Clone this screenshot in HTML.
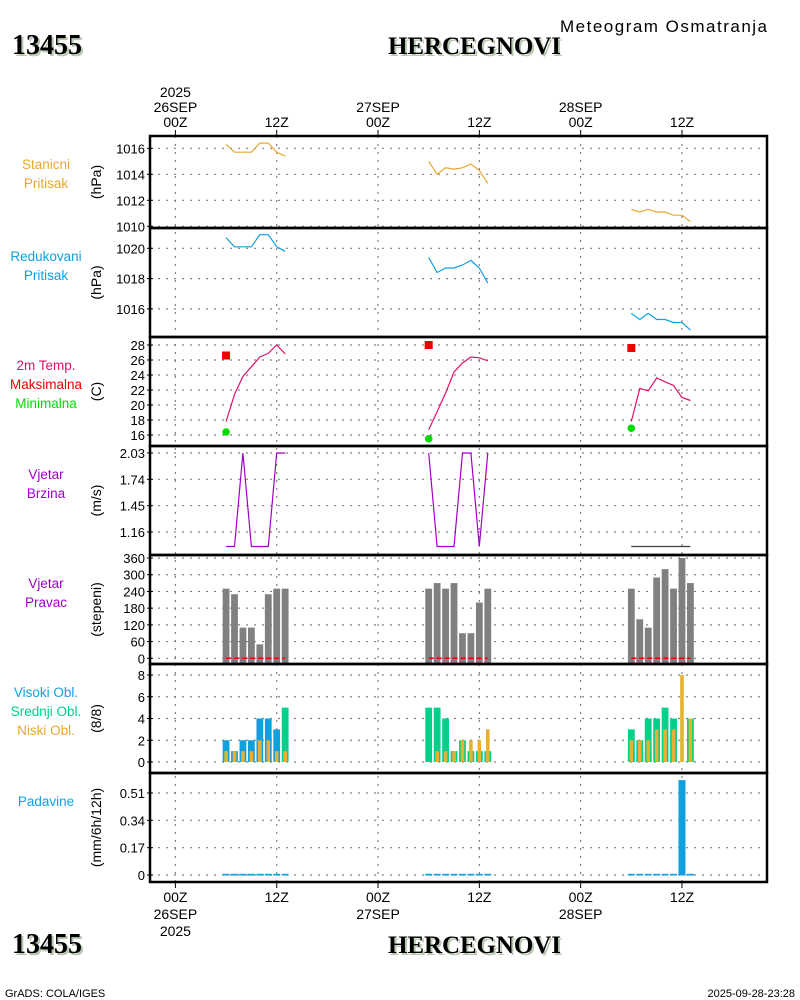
<!DOCTYPE html>
<html><head><meta charset="utf-8"><title>Meteogram HERCEGNOVI</title>
<style>
html,body{margin:0;padding:0;background:#fff;}
svg{display:block;font-family:"Liberation Sans",sans-serif;}
</style></head>
<body>
<svg id="chart" width="800" height="1000" viewBox="0 0 800 1000" xmlns="http://www.w3.org/2000/svg">
  <text x="560" y="32" font-size="17" textLength="207">Meteogram Osmatranja</text>
  <g font-family="Liberation Serif, serif" font-weight="bold" font-size="28">
    <text x="14" y="56" fill="#b8c8b0">13455</text>
    <text x="12" y="54" fill="#000">13455</text>
  </g>
  <g font-family="Liberation Serif, serif" font-weight="bold" font-size="25">
    <text x="390" y="56" fill="#b8c8b0" textLength="173">HERCEGNOVI</text>
    <text x="388" y="54" fill="#000" textLength="173">HERCEGNOVI</text>
  </g>
  <g font-family="Liberation Serif, serif" font-weight="bold" font-size="28">
    <text x="14" y="955" fill="#b8c8b0">13455</text>
    <text x="12" y="953" fill="#000">13455</text>
  </g>
  <g font-family="Liberation Serif, serif" font-weight="bold" font-size="25">
    <text x="390" y="955" fill="#b8c8b0" textLength="173">HERCEGNOVI</text>
    <text x="388" y="953" fill="#000" textLength="173">HERCEGNOVI</text>
  </g>
  <text x="5" y="997" font-size="11">GrADS: COLA/IGES</text>
  <text x="795" y="997" font-size="11" text-anchor="end">2025-09-28-23:28</text>
  <g id="grid"></g>
  <g id="marks"></g>
  <g id="frame"></g>
</svg>
<script>
// ---- data ----
const hoursDay1 = [6,7,8,9,10,11,12,13];
const hoursDay2 = [30,31,32,33,34,35,36,37];
const hoursDay3 = [54,55,56,57,58,59,60,61];
const stnPres1 = [1016.3,1015.7,1015.7,1015.7,1016.4,1016.4,1015.7,1015.4];
const stnPres2 = [1015.0,1014.0,1014.5,1014.4,1014.5,1014.8,1014.3,1013.3];
const stnPres3 = [1011.3,1011.1,1011.3,1011.1,1011.1,1010.85,1010.85,1010.35];
const redPres1 = [1020.7,1020.1,1020.1,1020.1,1020.9,1020.9,1020.1,1019.8];
const redPres2 = [1019.4,1018.4,1018.7,1018.7,1018.9,1019.2,1018.7,1017.7];
const redPres3 = [1015.7,1015.3,1015.7,1015.3,1015.3,1015.1,1015.1,1014.6];
const temp1 = [17.8,21.4,23.8,25.1,26.4,26.9,28.0,26.8];
const temp2 = [16.7,19.1,21.6,24.4,25.6,26.4,26.3,25.9];
const temp3 = [17.8,22.2,21.9,23.6,23.1,22.6,21.0,20.6];
const tmaxHours = [6,30,54];
const tmaxValues = [26.6,28.0,27.6];
const tminHours = [6,30,54];
const tminValues = [16.4,15.5,16.9];
const wspd1 = [1.0,1.0,2.03,1.0,1.0,1.0,2.03,2.03];
const wspd2 = [2.03,1.0,1.0,1.0,2.03,2.03,1.0,2.03];
const wspd3 = [1.0,1.0,1.0,1.0,1.0,1.0,1.0,1.0];
const wdir1 = [250,230,110,110,50,230,250,250];
const wdir2 = [250,270,250,270,90,90,200,250];
const wdir3 = [250,140,110,290,320,250,360,270];
const cloudHigh1 = [2,1,2,2,4,4,3,0];
const cloudMid1 = [0,0,0,0,0,0,0,5];
const cloudLow1 = [1,1,1,1,2,2,1,1];
const cloudHigh2 = [0,0,0,0,0,0,0,0];
const cloudMid2 = [5,5,4,1,2,1,1,1];
const cloudLow2 = [0,1,1,1,2,2,2,3];
const cloudHigh3 = [1,1,1,0,0,0,0,0];
const cloudMid3 = [3,2,4,4,5,4,0,4];
const cloudLow3 = [2,2,2,3,3,3,8,4];
const precip1 = [0,0,0,0,0,0,0,0];
const precip2 = [0,0,0,0,0,0,0,0];
const precip3 = [0,0,0,0,0,0,0.59,0];
const timeTickHours = [0,12,24,36,48,60];
const topTickLabels = [["2025","26SEP","00Z"],["12Z"],["27SEP","00Z"],["12Z"],["28SEP","00Z"],["12Z"]];
const bottomTickLabels = [["00Z","26SEP","2025"],["12Z"],["00Z","27SEP"],["12Z"],["00Z","28SEP"],["12Z"]];
const ticksStn = [1010,1012,1014,1016];
const ticksRed = [1016,1018,1020];
const ticksTemp = [16,18,20,22,24,26,28];
const ticksWspd = [1.16,1.45,1.74,2.03];
const ticksWdir = [0,60,120,180,240,300,360];
const ticksCloud = [0,2,4,6,8];
const ticksPrecip = [0,0.17,0.34,0.51];

// ---- layout ----
const NS = "http://www.w3.org/2000/svg";
const L = 150, R = 767;
const x = h => 175.4 + h * 8.443;
function lin(v0, y0, v1, y1){ return v => y0 + (v - v0) * (y1 - y0) / (v1 - v0); }
const panels = [
  {top:136,bot:228,y:lin(1016,148.3,1010,226.3),ticks:ticksStn,fmt:v=>v,unit:"(hPa)",labels:[["Stanicni","#e8a830"],["Pritisak","#e8a830"]],name:"station-pressure"},
  {top:228,bot:337,y:lin(1020,248.3,1018,278.6),ticks:ticksRed,fmt:v=>v,unit:"(hPa)",labels:[["Redukovani","#10a0e0"],["Pritisak","#10a0e0"]],name:"reduced-pressure"},
  {top:337,bot:446,y:lin(28,345,16,435),ticks:ticksTemp,fmt:v=>v,unit:"(C)",labels:[["2m Temp.","#e0106a"],["Maksimalna","#f00000"],["Minimalna","#00dc00"]],name:"temperature"},
  {top:446,bot:555,y:lin(2.03,453,1.16,532),ticks:ticksWspd,fmt:v=>v.toFixed(2),unit:"(m/s)",labels:[["Vjetar","#a000c8"],["Brzina","#a000c8"]],name:"wind-speed"},
  {top:555,bot:664,y:lin(0,658.3,360,558),ticks:ticksWdir,fmt:v=>v,unit:"(stepeni)",labels:[["Vjetar","#a000c8"],["Pravac","#a000c8"]],name:"wind-direction"},
  {top:664,bot:773,y:lin(0,762,8,675),ticks:ticksCloud,fmt:v=>v,unit:"(8/8)",labels:[["Visoki Obl.","#10a0e0"],["Srednji Obl.","#00d08a"],["Niski Obl.","#e8a830"]],name:"cloud-cover"},
  {top:773,bot:882,y:lin(0,875,0.51,793),ticks:ticksPrecip,fmt:v=>v===0?"0":String(v),unit:"(mm/6h/12h)",labels:[["Padavine","#10a0e0"]],name:"precipitation"}
];
function el(tag, attrs, parent){
  const e = document.createElementNS(NS, tag);
  for (const k in attrs) e.setAttribute(k, attrs[k]);
  parent.appendChild(e);
  return e;
}
const grid = document.getElementById('grid');
const marks = document.getElementById('marks');
const frame = document.getElementById('frame');

timeTickHours.forEach((h,i)=>{
  const gl = el('line',{x1:x(h),x2:x(h),y1:136,y2:882,stroke:'#808080','stroke-width':1.2,'stroke-dasharray':'2,6'},grid);
  
  
  const t1 = el('line',{x1:x(h),x2:x(h),y1:130,y2:136,stroke:'#000','stroke-width':1},frame);
  
  
  const t2 = el('line',{x1:x(h),x2:x(h),y1:882,y2:888,stroke:'#000','stroke-width':1},frame);
  
  
  const tl = topTickLabels[i];
  tl.forEach((s,j)=>{
    const t = el('text',{x:x(h),y:127-(tl.length-1-j)*15,'font-size':14,'text-anchor':'middle'},frame);
    t.textContent = s;
    
    
  });
  bottomTickLabels[i].forEach((s,j)=>{
    const t = el('text',{x:x(h),y:902+j*17,'font-size':14,'text-anchor':'middle'},frame);
    t.textContent = s;
    
    
  });
});

panels.forEach(p=>{
  p.ticks.forEach(v=>{
    const yy = p.y(v);
    const g = el('line',{x1:L,x2:R,y1:yy,y2:yy,stroke:'#808080','stroke-width':1.2,'stroke-dasharray':'2,6'},grid);
    
    
    const tk = el('line',{x1:L-3,x2:L+3,y1:yy,y2:yy,stroke:'#000','stroke-width':1},frame);
    
    
    const t = el('text',{x:L-5,y:yy+5,'font-size':13,'text-anchor':'end'},frame);
    t.textContent = p.fmt(v);
    
    
  });
  const mid = (p.top+p.bot)/2;
  const u = el('text',{x:0,y:0,'font-size':14,'text-anchor':'middle',transform:`translate(101,${mid}) rotate(-90)`},frame);
  u.textContent = p.unit;
  
  
  p.labels.forEach((lb,j)=>{
    const t = el('text',{x:46,y:p.top+33+j*19,'font-size':13.5,'text-anchor':'middle',fill:lb[1]},frame);
    t.textContent = lb[0];
    
    
  });
  const b = el('rect',{x:L,y:p.top,width:R-L,height:p.bot-p.top,fill:'none',stroke:'#000','stroke-width':2.5},frame);
  
  
});

function polyline(hours, vals, yfn, color, name, w){
  const pts = hours.map((h,i)=>x(h).toFixed(1)+','+yfn(vals[i]).toFixed(1)).join(' ');
  const pl = el('polyline',{points:pts,fill:'none',stroke:color,'stroke-width':w||1.2},marks);
  
  
}
const days = [hoursDay1,hoursDay2,hoursDay3];
[stnPres1,stnPres2,stnPres3].forEach((d,i)=>polyline(days[i],d,panels[0].y,'#e8a830','station-pressure-line'));
[redPres1,redPres2,redPres3].forEach((d,i)=>polyline(days[i],d,panels[1].y,'#10a0e0','reduced-pressure-line'));
[temp1,temp2,temp3].forEach((d,i)=>polyline(days[i],d,panels[2].y,'#e0106a','temperature-line'));
tmaxHours.forEach((h,i)=>{
  const r = el('rect',{x:x(h)-4,y:panels[2].y(tmaxValues[i])-4,width:8,height:8,fill:'#f00000'},marks);
  
  
});
tminHours.forEach((h,i)=>{
  const c = el('circle',{cx:x(h),cy:panels[2].y(tminValues[i]),r:3.8,fill:'#00dc00'},marks);
  
  
});
[wspd1,wspd2,wspd3].forEach((d,i)=>polyline(days[i],d,panels[3].y,i===2?'#404040':'#a000c8','wind-speed-line'));
[wdir1,wdir2,wdir3].forEach((d,i)=>{
  days[i].forEach((h,j)=>{
    const y0 = panels[4].y(d[j]);
    const r = el('rect',{x:x(h)-3.4,y:y0,width:6.8,height:664-y0,fill:'#808080'},marks);
    
    
  });
  const dl = el('line',{x1:x(days[i][0]),x2:x(days[i][7]),y1:panels[4].y(0),y2:panels[4].y(0),stroke:'#f00000','stroke-width':1.5,'stroke-dasharray':'5,3'},marks);
  
  
});
const cy = panels[5].y;
[[cloudHigh1,cloudMid1,cloudLow1],[cloudHigh2,cloudMid2,cloudLow2],[cloudHigh3,cloudMid3,cloudLow3]].forEach((set,i)=>{
  days[i].forEach((h,j)=>{
    const hi = el('rect',{x:x(h)-3.4,y:cy(set[0][j]),width:6.8,height:cy(0)-cy(set[0][j]),fill:'#10a0e0'},marks);
    
    
    const md = el('rect',{x:x(h)-3.4,y:cy(set[1][j]),width:6.8,height:cy(0)-cy(set[1][j]),fill:'#00d08a'},marks);
    
    
    const lo = el('rect',{x:x(h)-1.8,y:cy(set[2][j]),width:3.6,height:cy(0)-cy(set[2][j]),fill:'#e8b030'},marks);
    
    
  });
});
const py = panels[6].y;
[precip1,precip2,precip3].forEach((d,i)=>{
  days[i].forEach((h,j)=>{
    const top = Math.min(py(d[j]), py(0)-1.2);
    const r = el('rect',{x:x(h)-3.5,y:top,width:7,height:py(0)-top+0.5,fill:'#10a0e0'},marks);
    
    
  });
});
</script>
</body></html>
